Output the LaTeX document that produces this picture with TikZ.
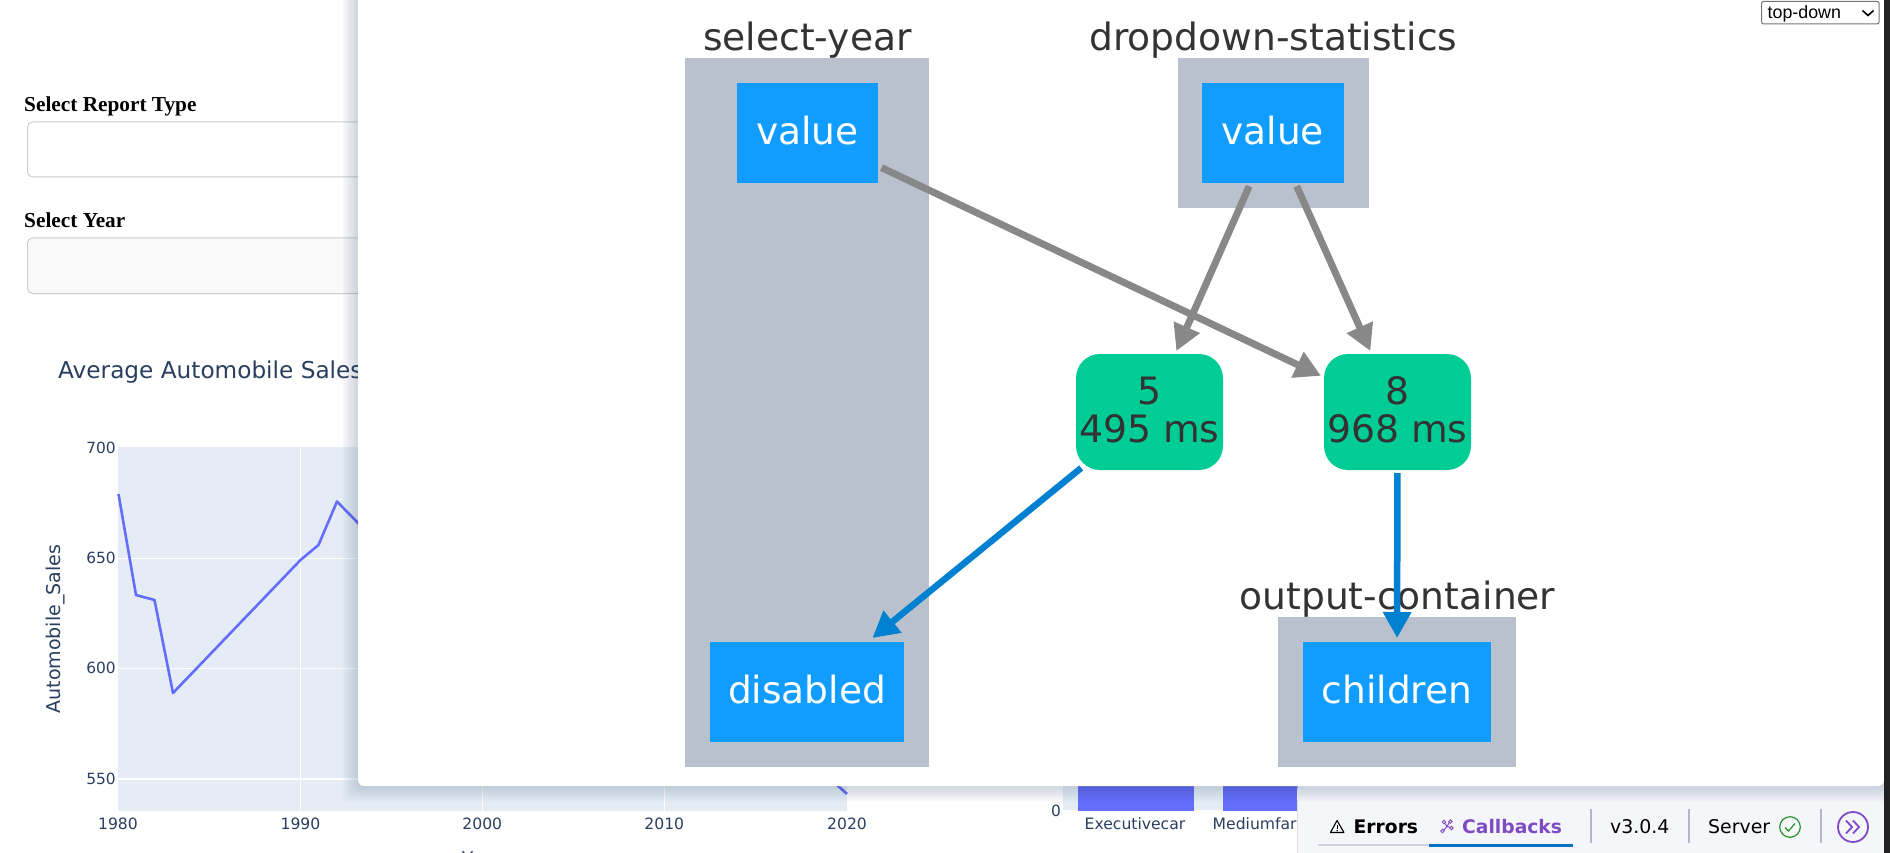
\documentclass[tikz,border=0pt]{standalone}
\usepackage{fontspec}
\setmainfont{DejaVu Sans}
\newfontfamily\timesf{Liberation Serif}
\newfontfamily\arialf{Liberation Sans}
\usetikzlibrary{arrows.meta,calc}
\definecolor{boxc}{HTML}{BAC1CE}
\definecolor{bluec}{HTML}{119DFF}
\definecolor{greenc}{HTML}{00CC96}
\definecolor{edgeg}{HTML}{888888}
\definecolor{edgeb}{HTML}{0080D0}
\definecolor{inkc}{HTML}{333333}
\definecolor{plotbg}{HTML}{E5ECF6}
\definecolor{plotink}{HTML}{2A3F5F}
\definecolor{trace}{HTML}{636EFA}
\definecolor{devbg}{HTML}{F5F6FA}
\definecolor{devline}{HTML}{B0B8D0}
\definecolor{purp}{HTML}{7F4BC4}
\definecolor{tabb}{HTML}{0071C2}
\definecolor{shadowc}{HTML}{2A3F70}
\tikzset{
  boxn/.style={fill=boxc,inner sep=0pt,outer sep=0pt},
  leafn/.style={fill=bluec,inner sep=0pt,outer sep=3.5pt,text=white,
     font=\fontsize{37.5}{38}\selectfont,text height=24.2pt,text depth=0pt},
  cbn/.style={fill=greenc,rounded corners=24pt,inner sep=0pt,outer sep=3pt,text=inkc,
     minimum width=147pt,minimum height=116pt,align=center,
     font=\fontsize{37.7}{38}\selectfont,text depth=5pt},
  idn/.style={text=inkc,inner sep=0pt,anchor=base,font=\fontsize{37.6}{38}\selectfont},
  edgegrey/.style={draw=edgeg,line width=7pt,-{Triangle[length=26pt,width=27pt]}},
  edgeblue/.style={draw=edgeb,line width=6.5pt,-{Triangle[length=26pt,width=27pt]}},
  ticky/.style={text=plotink,inner sep=0pt,anchor=east,font=\fontsize{15.4}{16}\selectfont},
  tickx/.style={text=plotink,inner sep=0pt,anchor=base,font=\fontsize{15.6}{16}\selectfont},
  grid/.style={draw=white,line width=1.4pt},
  formlabel/.style={inner sep=0pt,anchor=base west,font=\timesf\bfseries\fontsize{21.3}{23}\selectfont},
  devtext/.style={inner sep=0pt,anchor=base west,font=\fontsize{18.9}{20}\selectfont},
  devsep/.style={draw=devline,line width=1.6pt},
}
\begin{document}
\begin{tikzpicture}[x=1pt,y=-1pt]
\useasboundingbox (0,0) rectangle (1890,853);
\fill[white] (0,0) rectangle (1890,853);

% page behind the panel
\node[formlabel] (lblreport) at (24,111.5) {Select Report Type};
\node[formlabel] (lblyear) at (24,227.5) {Select Year};
\draw[draw=black!20,line width=1pt,fill=white,rounded corners=5pt] (27.5,122) rectangle (420,177);
\draw[draw=black!20,line width=1pt,fill=black!2.5,rounded corners=5pt] (27.5,238) rectangle (420,293.5);
\node[inner sep=0pt,anchor=base west,text=plotink,font=\fontsize{23.2}{25}\selectfont] (title) at (58,378) {Average Automobile Sales};

\fill[plotbg] (118,447) rectangle (847,811);
\draw[grid] (118,558.5) -- (847,558.5);
\draw[grid] (118,668.5) -- (847,668.5);
\draw[grid] (118,779) -- (847,779);
\draw[grid] (300.5,447) -- (300.5,811);
\draw[grid] (482.3,447) -- (482.3,811);
\draw[grid] (664.3,447) -- (664.3,811);
\draw[trace,line width=2.6pt,line join=round] (118.5,494) -- (136,595) -- (154.5,600) -- (173,693) -- (300.5,560) -- (318.5,545) -- (337,501.5) -- (360,525);
\draw[trace,line width=2.6pt] (836,784) -- (847,794);
\node[ticky] (y700) at (116,448) {700};
\node[ticky] (y650) at (116,558) {650};
\node[ticky] (y600) at (116,668) {600};
\node[ticky] (y550) at (116,779) {550};
\node[tickx] (x1980) at (118,829) {1980};
\node[tickx] (x1990) at (300.5,829) {1990};
\node[tickx] (x2000) at (482.3,829) {2000};
\node[tickx] (x2010) at (664.3,829) {2010};
\node[tickx] (x2020) at (847,829) {2020};
\node[inner sep=0pt,anchor=base,rotate=90,text=plotink,font=\fontsize{19}{20}\selectfont] (ytitle) at (60.5,629) {Automobile\_Sales};
\node[inner sep=0pt,anchor=base,text=plotink,font=\fontsize{18.9}{20}\selectfont] (xtitle) at (482,865) {Year};

\fill[plotbg] (1063,700) rectangle (1300,811);
\draw[grid] (1063,811) -- (1300,811);
\fill[trace] (1078,700) rectangle (1193.5,811);
\fill[trace] (1223,700) rectangle (1300,811);
\node[ticky] (y0) at (1061,811) {0};
\node[tickx,anchor=base west] (xexec) at (1084.5,829) {Executivecar};
\node[tickx,anchor=base west] (xmed) at (1212.5,829) {Mediumfar};

% dev tools bar
\fill[devbg,rounded corners=10pt] (1297,780) -- (1900,780) -- (1900,870) -- (1297,870) -- cycle;
\draw[draw=black!12,line width=.8pt] (1297,800) -- (1297,853);
\draw[draw=devline!60,line width=1.4pt] (1318,845) -- (1429,845);
\draw[draw=tabb,line width=3pt] (1429,845) -- (1573,845);
\draw[black,line width=1.1pt,line join=round] (1337,820.5) -- (1344,832.5) -- (1330.5,832.5) -- cycle;
\draw[black,line width=1.3pt] (1337.2,825) -- (1337.2,829);
\fill[black] (1337.2,830.7) circle (.8pt);
\node[devtext,font=\bfseries\fontsize{18.7}{20}\selectfont,text=black] (errors) at (1353.5,833) {Errors};
\draw[purp,line width=1pt] (1444,822) -- (1447,826.5) -- (1451,827.5);
\draw[purp,line width=1pt] (1450,821) -- (1447,826.5) -- (1443,831);
\draw[purp,line width=.9pt,fill=devbg] (1444,822) circle (1.7pt) (1450.5,821.5) circle (1.7pt) (1451.5,828) circle (1.7pt) (1442.5,831) circle (1.7pt);
\node[devtext,font=\bfseries\fontsize{18.7}{20}\selectfont,text=purp] (callbacks) at (1462,833) {Callbacks};
\draw[devsep] (1591,809) -- (1591,843);
\draw[devsep] (1689,809) -- (1689,843);
\draw[devsep] (1820.7,809) -- (1820.7,843);
\node[devtext] (version) at (1610,833) {v3.0.4};
\node[devtext] (server) at (1708,833) {Server};
\draw[draw=green!50!black!85,line width=1.2pt] (1790,827) circle (10.3pt);
\draw[draw=green!50!black!85,line width=1.2pt] (1785,827.5) -- (1788.5,831) -- (1795,823.5);
\draw[purp,line width=1.8pt,fill=devbg] (1853,827) circle (15pt);
\draw[purp,line width=1.8pt] (1846,820.5) -- (1852,827) -- (1846,833.5);
\draw[purp,line width=1.8pt] (1853,820.5) -- (1859,827) -- (1853,833.5);

% panel shadow
\foreach \s in {1,2,...,16}{
  \fill[shadowc,opacity=0.011,rounded corners=8pt] (358-\s,-30) rectangle (1884+\s,786+\s);
}
% panel
\fill[white,rounded corners=6pt] (358,-30) rectangle (1884,786);
\fill[black!87] (1884,0) rectangle (1890,853);

% dropdown, top right
\node[draw=black!54,line width=1pt,fill=white,rounded corners=2pt,inner sep=0pt,minimum width=117.5pt,minimum height=22.5pt] (layoutsel) at (1820.3,12.7) {};
\node[inner sep=0pt,anchor=base west,text=black,font=\arialf\fontsize{17.8}{19}\selectfont] (layouttxt) at (1767.5,18.5) {top-down};
\draw[black,line width=1.6pt] (1862.5,10.5) -- (1868,15.5) -- (1873.5,10.5);

% compound boxes and their ids
\node[boxn,minimum width=244pt,minimum height=709pt] (syear) at (807,412.3) {};
\node[boxn,minimum width=190.7pt,minimum height=150pt] (dstat) at (1273.3,132.7) {};
\node[boxn,minimum width=238pt,minimum height=150pt] (ocont) at (1397,692) {};
\node[idn] (syearid) at (807.5,51) {select-year};
\node[idn] (dstatid) at (1273.3,51) {dropdown-statistics};
\node[idn] (ocontid) at (1397.5,609) {output-container};

% ports
\node[leafn,minimum width=141.4pt,minimum height=100pt] (v1) at (807.3,132.7) {value};
\node[leafn,minimum width=141.4pt,minimum height=100pt] (v2) at (1272.8,132.7) {value};
\node[leafn,minimum width=194pt,minimum height=100pt] (dis) at (807,691.5) {disabled};
\node[leafn,minimum width=188pt,minimum height=100pt] (chi) at (1397,691.5) {children};

% callbacks
\node[cbn] (c5) at (1149.5,412) {5\\495 ms};
\node[cbn] (c8) at (1397.5,412) {8\\968 ms};

% connectors
\draw[edgegrey] (v1) -- (c8);
\draw[edgegrey] (v2) -- (c5);
\draw[edgegrey] (v2) -- (c8);
\draw[edgeblue,shorten <=-8pt] (c5) -- (dis);
\draw[edgeblue] (c8) -- (chi);
\end{tikzpicture}
\end{document}
